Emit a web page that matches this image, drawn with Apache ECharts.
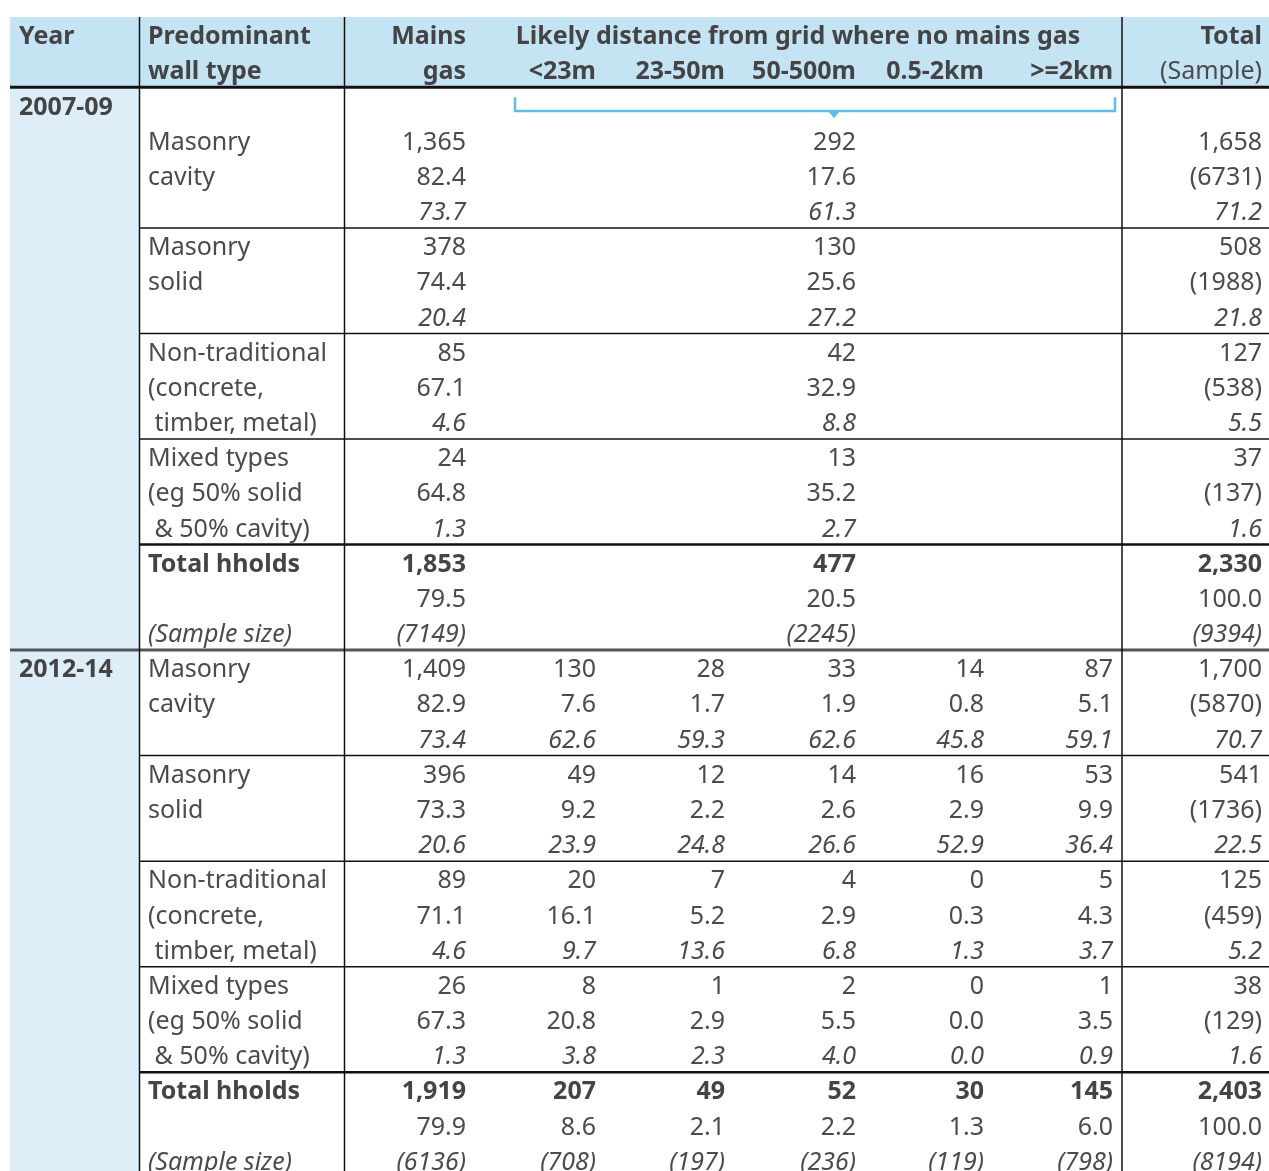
<!DOCTYPE html>
<html>
<head>
<meta charset="utf-8">
<script src="https://cdn.jsdelivr.net/npm/echarts@6/dist/echarts.min.js"></script>
<style>
  html, body { margin: 0; padding: 0; background: #fff; }
  #chart { width: 1269px; height: 1171px; }
</style>
</head>
<body>
<div id="chart"></div>
<script>
const years = ['2007-09', '2012-14']
const wallTypes = [
  ['Masonry', 'cavity'],
  ['Masonry', 'solid'],
  ['Non-traditional', '(concrete,', ' timber, metal)'],
  ['Mixed types', '(eg 50% solid', ' & 50% cavity)'],
]
const distanceBands = ['<23m', '23-50m', '50-500m', '0.5-2km', '>=2km']

// 2007-09 columns: mains gas, no mains gas, total
const counts0709 = [[1365, 292, 1658], [378, 130, 508], [85, 42, 127], [24, 13, 37], [1853, 477, 2330]]
const rowPct0709 = [[82.4, 17.6], [74.4, 25.6], [67.1, 32.9], [64.8, 35.2], [79.5, 20.5, 100.0]]
const colPct0709 = [[73.7, 61.3, 71.2], [20.4, 27.2, 21.8], [4.6, 8.8, 5.5], [1.3, 2.7, 1.6]]
const samplesTotalCol0709 = [6731, 1988, 538, 137]
const samplesTotalRow0709 = [7149, 2245, 9394]

// 2012-14 columns: mains gas, <23m, 23-50m, 50-500m, 0.5-2km, >=2km, total
const counts1214 = [
  [1409, 130, 28, 33, 14, 87, 1700],
  [396, 49, 12, 14, 16, 53, 541],
  [89, 20, 7, 4, 0, 5, 125],
  [26, 8, 1, 2, 0, 1, 38],
  [1919, 207, 49, 52, 30, 145, 2403],
]
const rowPct1214 = [
  [82.9, 7.6, 1.7, 1.9, 0.8, 5.1],
  [73.3, 9.2, 2.2, 2.6, 2.9, 9.9],
  [71.1, 16.1, 5.2, 2.9, 0.3, 4.3],
  [67.3, 20.8, 2.9, 5.5, 0.0, 3.5],
  [79.9, 8.6, 2.1, 2.2, 1.3, 6.0, 100.0],
]
const colPct1214 = [
  [73.4, 62.6, 59.3, 62.6, 45.8, 59.1, 70.7],
  [20.6, 23.9, 24.8, 26.6, 52.9, 36.4, 22.5],
  [4.6, 9.7, 13.6, 6.8, 1.3, 3.7, 5.2],
  [1.3, 3.8, 2.3, 4.0, 0.0, 0.9, 1.6],
]
const samplesTotalCol1214 = [5870, 1736, 459, 129]
const samplesTotalRow1214 = [6136, 708, 197, 236, 119, 798, 8194]

// layout: text anchor per table column (left for 0,1, right for the rest, 9 = centred title)
const colX = [19, 148, 466, 596, 725, 856, 984, 1113, 1262, 798]
const FONT = '"Noto Sans", "DejaVu Sans", sans-serif'
const INK = '#4b4b4d'
const ROW_MIN = -2.5
const ROW_MAX = 30.31
const TEXT_NUDGE = 2.5

const cells = []
function add(col, row, text, kind) {
  cells.push({ col, row, text, kind: kind || 'normal' })
}
const fmtCount = (v) => v.toLocaleString('en-GB')

// header
add(0, -2, 'Year', 'bold')
add(1, -2, 'Predominant', 'bold')
add(1, -1, 'wall type', 'bold')
add(2, -2, 'Mains', 'bold')
add(2, -1, 'gas', 'bold')
add(9, -2, 'Likely distance from grid where no mains gas', 'bold')
distanceBands.forEach((b, i) => add(3 + i, -1, b, 'bold'))
add(8, -2, 'Total', 'bold')
add(8, -1, '(Sample)', 'normal')

function addBlock(startRow, counts, rowPct, colPct, totCol, totRow, colMap) {
  const last = colMap.length - 1
  wallTypes.forEach((lines, w) => {
    const base = startRow + w * 3
    lines.forEach((t, i) => add(1, base + i, t))
    colMap.forEach((col, c) => {
      add(col, base, fmtCount(counts[w][c]))
      add(col, base + 1, c === last ? '(' + totCol[w] + ')' : rowPct[w][c].toFixed(1))
      add(col, base + 2, colPct[w][c].toFixed(1), 'italic')
    })
  })
  const t = startRow + 12
  add(1, t, 'Total hholds', 'bold')
  add(1, t + 2, '(Sample size)', 'italic')
  colMap.forEach((col, c) => {
    add(col, t, fmtCount(counts[4][c]), 'bold')
    add(col, t + 1, rowPct[4][c].toFixed(1))
    add(col, t + 2, '(' + totRow[c] + ')', 'italic')
  })
}

add(0, 0, years[0], 'bold')
addBlock(1, counts0709, rowPct0709, colPct0709, samplesTotalCol0709, samplesTotalRow0709, [2, 5, 8])
add(0, 16, years[1], 'bold')
addBlock(16, counts1214, rowPct1214, colPct1214, samplesTotalCol1214, samplesTotalRow1214, [2, 3, 4, 5, 6, 7, 8])

// horizontal rules: row boundary, x start, width, colour
const rules = [
  [-0.5, 10, 3, '#111'],
  [3.5, 139, 1.5, '#111'],
  [6.5, 139, 1.5, '#111'],
  [9.5, 139, 1.5, '#111'],
  [12.5, 139, 2.5, '#111'],
  [15.5, 10, 3, '#555'],
  [18.5, 139, 1.5, '#111'],
  [21.5, 139, 1.5, '#111'],
  [24.5, 139, 1.5, '#111'],
  [27.5, 139, 2.5, '#111'],
]
const vRules = [139.5, 344.5, 1122]

const chart = echarts.init(document.getElementById('chart'))
chart.setOption({
  animation: false,
  grid: { left: 0, right: 0, top: 17, bottom: 0 },
  xAxis: { type: 'value', min: 0, max: 1269, show: false },
  yAxis: { type: 'value', min: ROW_MIN, max: ROW_MAX, inverse: true, show: false },
  series: [
    {
      type: 'custom',
      silent: true,
      z: 1,
      data: [[0, 0]],
      renderItem: (params, api) => {
        const h0 = api.coord([10, ROW_MIN])
        const h1 = api.coord([1269, -0.5])
        const y1 = api.coord([139, ROW_MAX])
        const children = [
          { type: 'rect', shape: { x: h0[0], y: h0[1], width: h1[0] - h0[0], height: h1[1] - h0[1] }, style: { fill: '#c4e4f4' } },
          { type: 'rect', shape: { x: h0[0], y: h1[1], width: y1[0] - h0[0], height: y1[1] - h1[1] }, style: { fill: '#ddeef8' } },
        ]
        // bracket over the 2007-09 distance columns
        const bl = api.coord([515, -0.22])
        const br = api.coord([1115, 0.17])
        const tip = api.coord([834, 0.38])
        children.push({
          type: 'polyline',
          shape: { points: [[bl[0], bl[1]], [bl[0], br[1]], [br[0], br[1]], [br[0], bl[1]]] },
          style: { stroke: '#5bbfe3', lineWidth: 2.5, fill: null },
        })
        children.push({
          type: 'polygon',
          shape: { points: [[tip[0] - 6, br[1]], [tip[0] + 6, br[1]], [tip[0], tip[1]]] },
          style: { fill: '#5bbfe3' },
        })
        return { type: 'group', children }
      },
    },
    {
      type: 'custom',
      silent: true,
      z: 2,
      data: rules.map((r) => [r[1], r[0]]),
      renderItem: (params, api) => {
        const r = rules[params.dataIndex]
        const a = api.coord([r[1], r[0]])
        const b = api.coord([1269, r[0]])
        return {
          type: 'line',
          shape: { x1: a[0], y1: a[1], x2: b[0], y2: b[1] },
          style: { stroke: r[3], lineWidth: r[2] },
        }
      },
    },
    {
      type: 'custom',
      silent: true,
      z: 3,
      data: vRules.map((x) => [x, 0]),
      renderItem: (params, api) => {
        const a = api.coord([api.value(0), ROW_MIN])
        const b = api.coord([api.value(0), ROW_MAX])
        return {
          type: 'line',
          shape: { x1: a[0], y1: a[1], x2: b[0], y2: b[1] },
          style: { stroke: '#111', lineWidth: 1.5 },
        }
      },
    },
    {
      type: 'custom',
      silent: true,
      z: 4,
      data: cells.map((c) => [colX[c.col], c.row]),
      renderItem: (params, api) => {
        const c = cells[params.dataIndex]
        const p = api.coord([api.value(0), api.value(1)])
        const align = c.col <= 1 ? 'left' : c.col === 9 ? 'center' : 'right'
        return {
          type: 'text',
          x: p[0],
          y: p[1] + TEXT_NUDGE,
          style: {
            text: c.text,
            align,
            verticalAlign: 'middle',
            fontFamily: FONT,
            fontSize: 25,
            fontWeight: c.kind === 'bold' ? 'bold' : 'normal',
            fontStyle: c.kind === 'italic' ? 'italic' : 'normal',
            fill: c.kind === 'bold' ? '#444446' : INK,
          },
        }
      },
    },
  ],
})
</script>
</body>
</html>
